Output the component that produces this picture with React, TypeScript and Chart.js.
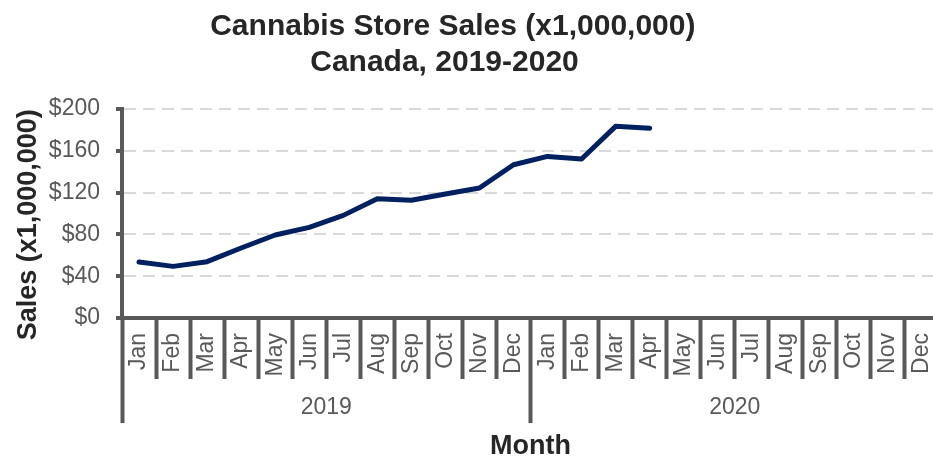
import React, { useEffect, useRef } from "react";
import { Chart, registerables } from "chart.js";

Chart.register(...registerables);

const monthLabels = [
  "Jan", "Feb", "Mar", "Apr", "May", "Jun", "Jul", "Aug", "Sep", "Oct", "Nov", "Dec",
  "Jan", "Feb", "Mar", "Apr", "May", "Jun", "Jul", "Aug", "Sep", "Oct", "Nov", "Dec",
];
const yearLabels = ["2019", "2020"];
const salesValues = [
  53.6, 49.4, 53.9, 67.0, 79.4, 86.7, 98.2, 114.2, 112.6, 118.6, 124.4, 146.7,
  154.6, 152.1, 183.4, 181.5,
];
const yMin = 0;
const yMax = 200;
const yStep = 40;
const titleLines = ["Cannabis Store Sales (x1,000,000)    ", "Canada, 2019-2020      "];
const yTitle = "Sales (x1,000,000)   ";
const xTitle = "Month";

const FONT = "'Liberation Sans', Arial, Helvetica, sans-serif";
const AXIS_GRAY = "#595959";
const TEXT_DARK = "#262626";

export default function App() {
  const canvasRef = useRef<HTMLCanvasElement | null>(null);

  useEffect(() => {
    if (!canvasRef.current) return;
    const chart = new Chart(canvasRef.current, {
      type: "line",
      data: {
        labels: monthLabels,
        datasets: [
          {
            label: "Sales",
            data: salesValues,
            borderColor: "#002060",
            backgroundColor: "#002060",
            borderWidth: 5,
            pointRadius: 0,
            pointHoverRadius: 0,
            tension: 0,
            borderCapStyle: "round",
            borderJoinStyle: "round",
            fill: false,
            xAxisID: "x",
            yAxisID: "y",
          },
        ],
      },
      options: {
        responsive: true,
        maintainAspectRatio: false,
        animation: false,
        layout: { padding: 0 },
        plugins: {
          legend: { display: false },
          tooltip: { enabled: false },
          title: {
            display: true,
            text: titleLines,
            color: TEXT_DARK,
            font: { family: FONT, size: 30, weight: "bold", lineHeight: 1.2 },
            padding: { top: 9, bottom: 28 },
          },
        },
        scales: {
          x: {
            type: "category",
            position: "bottom",
            offset: true,
            grid: {
              display: true,
              offset: true,
              drawOnChartArea: false,
              drawTicks: true,
              tickLength: 61,
              tickColor: AXIS_GRAY,
              tickWidth: 4,
              color: AXIS_GRAY,
            },
            border: { display: true, color: AXIS_GRAY, width: 4 },
            ticks: {
              autoSkip: false,
              minRotation: 90,
              maxRotation: 90,
              padding: -46,
              color: AXIS_GRAY,
              font: { family: FONT, size: 23 },
            },
            afterFit: (scale: any) => {
              scale.height = 61;
            },
          },
          xYear: {
            type: "category",
            position: "bottom",
            labels: yearLabels,
            offset: true,
            grid: {
              display: true,
              offset: true,
              drawOnChartArea: false,
              drawTicks: true,
              tickLength: 44,
              tickColor: AXIS_GRAY,
              tickWidth: 4,
              color: AXIS_GRAY,
            },
            border: { display: false },
            ticks: {
              autoSkip: false,
              maxRotation: 0,
              minRotation: 0,
              padding: -29,
              color: AXIS_GRAY,
              font: { family: FONT, size: 23 },
            },
            title: {
              display: true,
              text: xTitle,
              color: TEXT_DARK,
              font: { family: FONT, size: 27, weight: "bold", lineHeight: 1 },
              padding: { top: 0, bottom: 0 },
            },
            afterFit: (scale: any) => {
              scale.height = 81;
            },
          },
          y: {
            type: "linear",
            position: "left",
            min: yMin,
            max: yMax,
            grid: {
              display: true,
              color: "#d9d9d9",
              lineWidth: 2,
              drawTicks: true,
              tickLength: 6,
              tickColor: AXIS_GRAY,
              tickWidth: 4,
            },
            border: { display: true, color: AXIS_GRAY, width: 4, dash: [12, 7] },
            ticks: {
              stepSize: yStep,
              padding: 16,
              color: AXIS_GRAY,
              font: { family: FONT, size: 23 },
              callback: (v: any) => "$" + v,
            },
            title: {
              display: true,
              text: yTitle,
              color: TEXT_DARK,
              font: { family: FONT, size: 27, weight: "bold", lineHeight: 1 },
              padding: { top: 15, bottom: 0 },
            },
            afterFit: (scale: any) => {
              scale.width = 122;
            },
          },
        },
      },
    });
    return () => chart.destroy();
  }, []);

  return (
    <div
      style={{
        position: "fixed",
        left: 0,
        top: 0,
        width: 933,
        height: 460,
        overflow: "hidden",
        background: "#ffffff",
      }}
    >
      <div style={{ position: "relative", width: 939, height: 460 }}>
        <canvas ref={canvasRef} />
      </div>
    </div>
  );
}
